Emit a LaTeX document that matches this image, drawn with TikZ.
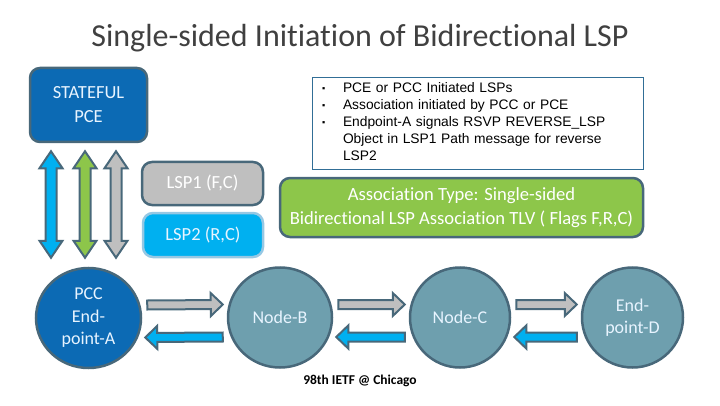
\documentclass[tikz,border=0pt]{standalone}
\usepackage{fontspec}
\setmainfont{Carlito}[Ligatures=NoCommon]
\newfontfamily\arialfont{Liberation Sans}
\usetikzlibrary{arrows.meta,positioning,shapes.geometric,calc}

\definecolor{titlegray}{RGB}{64,64,64}
\definecolor{pceblue}{RGB}{12,106,180}
\definecolor{edge}{RGB}{72,104,122}
\definecolor{nodeteal}{RGB}{110,159,174}
\definecolor{lspgray}{RGB}{191,191,191}
\definecolor{lspblue}{RGB}{0,176,240}
\definecolor{lspedge}{RGB}{150,200,228}
\definecolor{assocgreen}{RGB}{141,198,74}
\definecolor{noteedge}{RGB}{49,110,150}
\definecolor{paletext}{RGB}{232,244,255}

% block arrow from #2 to #3, filled with #1
\newcommand\blockarrow[3]{%
  \draw[edge, line width=2pt, fill=#1, line join=miter]
    let \p1=(#2), \p2=(#3), \n1={atan2(\y2-\y1,\x2-\x1)}, \n2={veclen(\x2-\x1,\y2-\y1)} in
    [shift={(\p1)}, rotate=\n1]
    (0,-4.5) -- (\n2-12,-4.5) -- (\n2-12,-11.5) -- (\n2,0) -- (\n2-12,11.5) -- (\n2-12,4.5) -- (0,4.5) -- cycle;}
% two-headed block arrow from #2 to #3, filled with #1
\newcommand\dblarrow[3]{%
  \draw[edge, line width=2pt, fill=#1, line join=miter]
    let \p1=(#2), \p2=(#3), \n1={atan2(\y2-\y1,\x2-\x1)}, \n2={veclen(\x2-\x1,\y2-\y1)} in
    [shift={(\p1)}, rotate=\n1]
    (0,0) -- (17,11.5) -- (17,5.5) -- (\n2-17,5.5) -- (\n2-17,11.5) -- (\n2,0)
    -- (\n2-17,-11.5) -- (\n2-17,-5.5) -- (17,-5.5) -- (17,-11.5) -- cycle;}
\newcommand\sqbullet{\raisebox{1pt}{\fontsize{9}{9}\selectfont ▪}}

\begin{document}
\begin{tikzpicture}[x=1pt, y=1pt,
  box/.style={draw=edge, line width=2.5pt, rounded corners=10pt, inner sep=0pt, align=center},
  router/.style={ellipse, draw=edge, line width=2.5pt, fill=nodeteal, inner sep=0pt,
    minimum width=104pt, minimum height=100pt, text=paletext, align=center,
    font=\fontsize{18}{22.5}\selectfont},
]
  \useasboundingbox (0,0) rectangle (720,405);

  % Title
  \node[text=titlegray, font=\fontsize{32}{38}\selectfont] (title) at (360,367)
    {Single-sided Initiation of Bidirectional LSP};

  % PCE and the two LSPs
  \node[box, fill=pceblue, text=paletext, minimum width=117pt, minimum height=74pt,
    font=\fontsize{18.5}{24}\selectfont] (pce) at (88.5,300) {STATEFUL\\PCE};
  \node[box, fill=lspgray, text=white, minimum width=121pt, minimum height=43pt,
    font=\fontsize{18.5}{20}\selectfont] (lspone) at (202.5,221.5) {LSP1 (F,C)};
  \node[box, draw=lspedge, fill=lspblue, text=paletext, minimum width=120pt, minimum height=44pt,
    font=\fontsize{18.5}{20}\selectfont] (lsptwo) at (203,170) {LSP2 (R,C)};

  % Notes
  \node[draw=noteedge, line width=0.8pt, text width=311pt, inner xsep=10pt, inner ysep=3pt,
    minimum height=92pt, text=black, font=\arialfont\fontsize{13.8}{17}\selectfont] (notes) at (477.5,282)
    {\begin{tabular}{@{}p{21pt}@{}l@{}}
      \sqbullet & PCE or PCC Initiated LSPs\\
      \sqbullet & Association initiated by PCC or PCE\\
      \sqbullet & Endpoint-A signals RSVP REVERSE\_LSP\\
        & Object in LSP1 Path message for reverse\\
        & LSP2
    \end{tabular}};

  % Association TLV
  \node[box, fill=assocgreen, text=white, minimum width=363pt, minimum height=59pt,
    font=\fontsize{18.6}{24}\selectfont] (assoc) at (461.5,197.5)
    {Association Type: Single-sided\\Bidirectional LSP Association TLV ( Flags F,R,C)};

  % Nodes on the path
  \node[router, fill=pceblue, minimum width=105pt] (pcc) at (88.5,87) {PCC\\End-\\point-A};
  \node[router] (nodeb) at (280,87.5) {Node-B};
  \node[router, minimum width=100pt] (nodec) at (460,87.5) {Node-C};
  \node[router, minimum width=101pt] (endd) at (632.5,87.5) {End-\\point-D};

  % PCE <-> PCC
  \foreach \dx/\col in {-37.5/lspblue, -3.5/assocgreen, 27.5/lspgray}
    \dblarrow{\col}{[xshift=\dx pt, yshift=-8pt]pce.south}{[xshift=\dx pt, yshift=9pt]pcc.north};

  % LSP1 forward, LSP2 reverse
  \foreach \a/\b in {pcc/nodeb, nodeb/nodec, nodec/endd} {
    \blockarrow{lspgray}{[xshift=5pt, yshift=13pt]\a.east}{[xshift=-4pt, yshift=13pt]\b.west}
    \blockarrow{lspblue}{[xshift=-4pt, yshift=-19.5pt]\b.west}{[xshift=3pt, yshift=-19.5pt]\a.east}
  }

  % Footer
  \node[font=\bfseries\fontsize{13.5}{15}\selectfont] (venue) at (360,24) {98th IETF @ Chicago};
\end{tikzpicture}
\end{document}
